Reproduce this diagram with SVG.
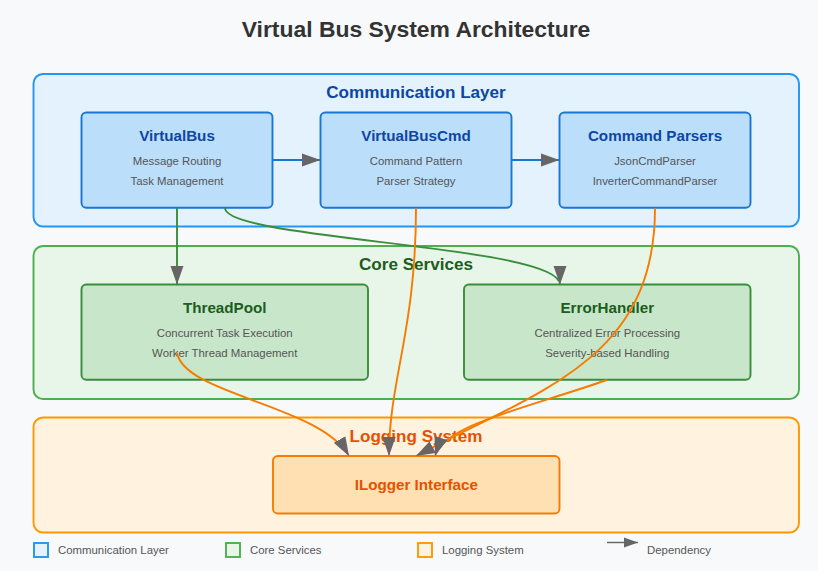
<svg xmlns="http://www.w3.org/2000/svg" width="818" height="571" viewBox="0 0 818 571">
<defs>
<marker id="arrow" viewBox="0 0 10 7" markerWidth="10" markerHeight="7" refX="10" refY="3.5" orient="auto">
<path d="M0,0 L10,3.5 L0,7 z" fill="#666"/>
</marker>
<style>
text{font-family:"Liberation Sans",Arial,Helvetica,sans-serif}
.title{font-size:22.9px;font-weight:bold;fill:#333}
.lt{font-size:17.1px;font-weight:bold}
.nt{font-size:15.2px;font-weight:bold}
.sub{font-size:11.4px;fill:#555}
.leg{font-size:11.4px;fill:#555}
.comm{fill:#e3f2fd;stroke:#2196f3;stroke-width:1.9}
.core{fill:#e8f5e9;stroke:#4caf50;stroke-width:1.9}
.logl{fill:#fff3e0;stroke:#ff9800;stroke-width:1.9}
.cn{fill:#bbdefb;stroke:#1976d2;stroke-width:1.9}
.sn{fill:#c8e6c9;stroke:#388e3c;stroke-width:1.9}
.ln{fill:#ffe0b2;stroke:#f57c00;stroke-width:1.9}
.blue{fill:#0d47a1}
.green{fill:#1b5e20}
.orange{fill:#e65100}
.c-blue{fill:none;stroke:#1976d2;stroke-width:1.9;marker-end:url(#arrow)}
.c-green{fill:none;stroke:#388e3c;stroke-width:1.9;marker-end:url(#arrow)}
.c-orange{fill:none;stroke:#f57c00;stroke-width:1.9;marker-end:url(#arrow)}
</style>
</defs>
<rect x="0" y="0" width="818" height="571" fill="#f8f9fa"/>
<text class="title" x="416" y="37" text-anchor="middle">Virtual Bus System Architecture</text>

<g id="layer-communication">
<rect class="comm" x="33.5" y="74" width="765.5" height="152.5" rx="9.5"/>
<text class="lt blue" x="416" y="98" text-anchor="middle">Communication Layer</text>
</g>
<g id="layer-core">
<rect class="core" x="33.5" y="246" width="765.5" height="153" rx="9.5"/>
<text class="lt green" x="416" y="270" text-anchor="middle">Core Services</text>
</g>
<g id="layer-logging">
<rect class="logl" x="33.5" y="417.5" width="765.5" height="115" rx="9.5"/>
<text class="lt orange" x="416" y="442" text-anchor="middle">Logging System</text>
</g>

<g id="node-virtualbus">
<rect class="cn" x="81.5" y="112.5" width="191" height="95.3" rx="4.8"/>
<text class="nt blue" x="177" y="141" text-anchor="middle">VirtualBus</text>
<text class="sub" x="177" y="165" text-anchor="middle">Message Routing</text>
<text class="sub" x="177" y="184.5" text-anchor="middle">Task Management</text>
</g>
<g id="node-virtualbuscmd">
<rect class="cn" x="320.5" y="112.5" width="191" height="95.3" rx="4.8"/>
<text class="nt blue" x="416" y="141" text-anchor="middle">VirtualBusCmd</text>
<text class="sub" x="416" y="165" text-anchor="middle">Command Pattern</text>
<text class="sub" x="416" y="184.5" text-anchor="middle">Parser Strategy</text>
</g>
<g id="node-commandparsers">
<rect class="cn" x="559.5" y="112.5" width="191" height="95.3" rx="4.8"/>
<text class="nt blue" x="655" y="141" text-anchor="middle">Command Parsers</text>
<text class="sub" x="655" y="165" text-anchor="middle">JsonCmdParser</text>
<text class="sub" x="655" y="184.5" text-anchor="middle">InverterCommandParser</text>
</g>
<g id="node-threadpool">
<rect class="sn" x="81.5" y="284.5" width="286.5" height="95.3" rx="4.8"/>
<text class="nt green" x="224.7" y="313" text-anchor="middle">ThreadPool</text>
<text class="sub" x="224.7" y="337" text-anchor="middle">Concurrent Task Execution</text>
<text class="sub" x="224.7" y="356.5" text-anchor="middle">Worker Thread Management</text>
</g>
<g id="node-errorhandler">
<rect class="sn" x="464" y="284.5" width="286.5" height="95.3" rx="4.8"/>
<text class="nt green" x="607.3" y="313" text-anchor="middle">ErrorHandler</text>
<text class="sub" x="607.3" y="337" text-anchor="middle">Centralized Error Processing</text>
<text class="sub" x="607.3" y="356.5" text-anchor="middle">Severity-based Handling</text>
</g>
<g id="node-ilogger">
<rect class="ln" x="273" y="456" width="286.5" height="57.5" rx="4.8"/>
<text class="nt orange" x="416.3" y="489.5" text-anchor="middle">ILogger Interface</text>
</g>

<g id="connectors">
<line class="c-blue" x1="272.5" y1="160" x2="320.5" y2="160"/>
<line class="c-blue" x1="511.5" y1="160" x2="559.5" y2="160"/>
<line class="c-green" x1="177" y1="208" x2="177" y2="284.5"/>
<path class="c-green" d="M225,208 C225,240 560,245 560,284.5"/>
<path class="c-orange" d="M416,208 C416,330 389,380 389,456"/>
<path class="c-orange" d="M655,208 C655,360 540,390 416,456"/>
<path class="c-orange" d="M177,353 C185,395 320,405 349,456"/>
<path class="c-orange" d="M607,380 C520,410 445,425 435,456"/>
</g>

<g id="legend">
<rect class="comm" x="34" y="543" width="14" height="14"/>
<text class="leg" x="58" y="553.5">Communication Layer</text>
<rect class="core" x="226" y="543" width="14" height="14"/>
<text class="leg" x="250" y="553.5">Core Services</text>
<rect class="logl" x="418" y="543" width="14" height="14"/>
<text class="leg" x="442" y="553.5">Logging System</text>
<line x1="607" y1="542.5" x2="638" y2="542.5" stroke="#666" stroke-width="1.43" marker-end="url(#arrow)"/>
<text class="leg" x="647" y="553.5">Dependency</text>
</g>
</svg>
